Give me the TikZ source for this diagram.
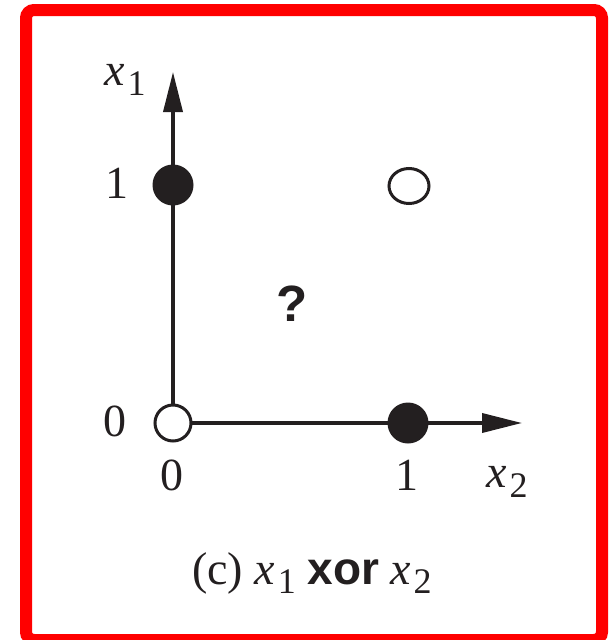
\documentclass[tikz,border=0pt]{standalone}
\usepackage{fontspec}
\setmainfont{Liberation Serif}
\newfontfamily\helv{Liberation Sans}
\usetikzlibrary{arrows.meta,shapes.geometric}
\newcommand{\xsub}[1]{\textit{x}\kern0.06em\raisebox{-0.45ex}{\fontsize{36}{36}\selectfont #1}}
\tikzset{
  axis/.style={line width=3.6pt, draw={rgb,255:red,35;green,31;blue,32}, -{Triangle[length=40pt,width=19pt]}},
  opendot/.style={circle, draw={rgb,255:red,35;green,31;blue,32}, line width=3pt, fill=white, minimum size=36pt, inner sep=0pt},
  fulldot/.style={circle, fill={rgb,255:red,35;green,31;blue,32}, minimum size=41pt, inner sep=0pt},
  lbl/.style={font=\fontsize{46}{46}\selectfont, text={rgb,255:red,35;green,31;blue,32}, inner sep=0pt}
}
\begin{document}
\begin{tikzpicture}[x=1pt,y=-1pt]
\useasboundingbox (0,0) rectangle (611,640);
\fill[white] (0,0) rectangle (611,640);
\draw[red, line width=12pt, rounded corners=8pt] (26,10) rectangle (602,640);
\coordinate (o) at (173,423);
\coordinate (ytip) at (173,72);
\coordinate (xtip) at (522,423);
\draw[axis] (o) -- (ytip);
\draw[axis] (o) -- (xtip);
\node[opendot] (p00) at (173,423) {};
\node[fulldot] (p01) at (173,185) {};
\node[fulldot] (p10) at (408,423) {};
\node[ellipse, draw={rgb,255:red,35;green,31;blue,32}, line width=3pt, minimum width=40pt, minimum height=35pt, inner sep=0pt] (p11) at (409,186) {};
\node[lbl] (lx1) at (125,80) {\xsub{1}};
\node[lbl] (l1y) at (117,183) {1};
\node[lbl] (l0y) at (115,421) {0};
\node[lbl] (l0x) at (172,475) {0};
\node[lbl] (l1x) at (407,475) {1};
\node[lbl] (lx2) at (507,482) {\xsub{2}};
\node[lbl, font=\helv\bfseries\fontsize{51}{51}\selectfont] (q) at (292,304) {?};
\node[lbl] (cap) at (312,573) {(c) \xsub{1} {\helv\bfseries xor} \xsub{2}};
\end{tikzpicture}
\end{document}
